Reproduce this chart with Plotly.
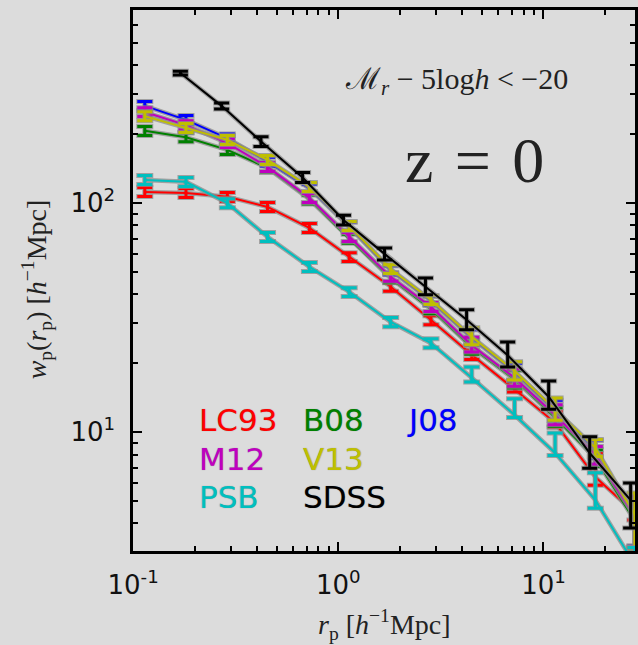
import plotly.graph_objects as go

# Projected correlation function w_p(r_p) for M_r - 5log h < -20 galaxies at z = 0

# projected separations [h^-1 Mpc]
rp_model = [0.114, 0.181, 0.288, 0.452, 0.723, 1.13, 1.80, 2.83, 4.47, 7.23, 11.4, 17.9, 27.9]
rp_sdss = [0.17, 0.27, 0.42, 0.67, 1.06, 1.68, 2.66, 4.22, 6.69, 10.6, 16.8, 26.6]

# semi-analytic models
wp_lc93 = [112, 110.9, 106.6, 96.3, 78, 58.2, 43.2, 30.9, 21.8, 15.4, 11.0, 6.38, 4.44]
up_lc93 = [5.0, 5.0, 4.8, 4.3, 3.5, 2.6, 1.9, 1.4, 1.0, 1.2, 1.3, 1.7, 0.4]
dn_lc93 = [5.0, 5.0, 4.8, 4.3, 3.5, 2.6, 1.9, 1.4, 1.0, 0.4, 0.5, 0.5, 0.3]

wp_b08 = [207, 194, 171, 142.6, 104, 70, 47, 34.5, 23.5, 17, 11.6, 7.7, 4.1]
up_b08 = [9.3, 8.7, 7.7, 6.4, 4.7, 3.2, 2.1, 1.6, 1.9, 1.6, 1.2, 0.7, 0.9]
dn_b08 = [9.3, 8.7, 7.7, 6.4, 4.7, 3.2, 2.1, 1.6, 1.6, 1.4, 1.0, 0.6, 1.0]

wp_j08 = [266, 231, 192, 152, 116, 79, 51, 37.5, 25.8, 18.3, 12.4, 8.4, 4.3]
up_j08 = [12, 10.4, 8.6, 6.8, 5.2, 3.6, 2.3, 1.7, 2.2, 1.7, 1.4, 0.8, 1.0]
dn_j08 = [12, 10.4, 8.6, 6.8, 5.2, 3.6, 2.3, 1.7, 1.8, 1.5, 1.2, 0.7, 1.1]

wp_m12 = [250, 219, 183, 144, 105.5, 71.3, 47.7, 35.3, 24.0, 17.3, 11.9, 7.96, 4.27]
up_m12 = [11, 10, 8, 6.5, 4.7, 3.2, 2.1, 1.6, 2.0, 1.6, 1.3, 0.7, 1.0]
dn_m12 = [11, 10, 8, 6.5, 4.7, 3.2, 2.1, 1.6, 1.6, 1.4, 1.1, 0.7, 1.1]

wp_v13 = [240, 213, 189, 154.5, 117.8, 79.6, 51.6, 37.8, 26.1, 18.5, 12.6, 8.55, 4.36]
up_v13 = [11, 9.6, 8.5, 7.0, 5.3, 3.6, 2.3, 1.7, 2.5, 1.8, 1.5, 0.75, 1.07]
dn_v13 = [11, 9.6, 8.5, 7.0, 5.3, 3.6, 2.3, 1.7, 2.0, 1.6, 1.3, 0.7, 1.23]

wp_psb = [126.4, 124, 100, 71.3, 52.7, 41, 30.3, 24.5, 17.3, 11.9, 8.12, 5.06, 2.64]
up_psb = [5.7, 5.6, 4.5, 3.2, 2.4, 1.8, 1.4, 1.1, 2.0, 2.1, 1.8, 1.6, 0.5]
dn_psb = [5.7, 5.6, 4.5, 3.2, 2.4, 1.8, 1.4, 1.1, 0.7, 0.3, 0.2, 0.4, 0.3]

# SDSS measurement
wp_sdss = [370, 266, 186, 129.5, 84.5, 60.1, 43.2, 31.0, 21.7, 14.3, 8.12, 5.06]
up_sdss = [7, 8, 9, 6.5, 4.2, 3.6, 4.0, 3.3, 3.1, 2.45, 1.45, 0.95]
dn_sdss = [7, 8, 9, 6.5, 4.2, 3.6, 3.4, 3.0, 2.4, 1.7, 1.16, 1.24]

series = [
    ("LC93", rp_model, wp_lc93, up_lc93, dn_lc93, "#ff0000"),
    ("B08", rp_model, wp_b08, up_b08, dn_b08, "#008000"),
    ("J08", rp_model, wp_j08, up_j08, dn_j08, "#0000ff"),
    ("M12", rp_model, wp_m12, up_m12, dn_m12, "#bf00bf"),
    ("V13", rp_model, wp_v13, up_v13, dn_v13, "#bfbf00"),
    ("PSB", rp_model, wp_psb, up_psb, dn_psb, "#00bfbf"),
    ("SDSS", rp_sdss, wp_sdss, up_sdss, dn_sdss, "#000000"),
]

halo = "rgba(140,140,140,0.75)"
fig = go.Figure()
for name, x, y, up, dn, col in series:
    # grey outline underneath, then the coloured curve with error bars
    fig.add_trace(go.Scatter(
        x=x, y=y, mode="lines", line=dict(color=halo, width=4.5),
        error_y=dict(type="data", array=up, arrayminus=dn, symmetric=False,
                     color=halo, thickness=5, width=8.5),
        showlegend=False, hoverinfo="skip"))
    fig.add_trace(go.Scatter(
        x=x, y=y, mode="lines", name=name, line=dict(color=col, width=2),
        error_y=dict(type="data", array=up, arrayminus=dn, symmetric=False,
                     color=col, thickness=3, width=7.5),
        showlegend=False))

# legend as coloured labels
legend_rows = [
    [("LC93", "#ff0000"), ("B08", "#008000"), ("J08", "#0000ff")],
    [("M12", "#bf00bf"), ("V13", "#bfbf00")],
    [("PSB", "#00bfbf"), ("SDSS", "#000000")],
]
col_x = [0.127, 0.3353, 0.5417]
row_y = [0.2421, 0.1701, 0.0998]
shadow = "0px 0px 1px #8c8c8c"
annotations = []
for r, row in enumerate(legend_rows):
    for c, (lab, col) in enumerate(row):
        annotations.append(dict(
            text=lab, x=col_x[c], y=row_y[r], xref="paper", yref="paper",
            xanchor="left", yanchor="middle", showarrow=False,
            font=dict(family="DejaVu Sans", size=31, color=col, shadow=shadow)))

serif = "Liberation Serif"
annotations += [
    dict(text="ℳ<sub><i>r</i></sub> − 5log<i>h</i> &lt; −20", x=0.6448, y=0.8688,
         xref="paper", yref="paper", showarrow=False, xanchor="center", yanchor="middle",
         font=dict(family=serif, size=30, color="#222222")),
    dict(text="z\u2004=\u20040", x=0.6806, y=0.722, xref="paper", yref="paper",
         showarrow=False, xanchor="center", yanchor="middle",
         font=dict(family=serif, size=64, color="#222222")),
    dict(text="<i>r</i><sub>p</sub> [<i>h</i><sup>−1</sup>Mpc]", x=0.5, y=-0.136,
         xref="paper", yref="paper", showarrow=False, xanchor="center", yanchor="middle",
         font=dict(family=serif, size=28, color="#222222")),
    dict(text="<i>w</i><sub>p</sub>(<i>r</i><sub>p</sub>) [<i>h</i><sup>−1</sup>Mpc]",
         x=-0.1905, y=0.4843, xref="paper", yref="paper", showarrow=False,
         textangle=-90, xanchor="center", yanchor="middle",
         font=dict(family=serif, size=28, color="#222222")),
]

x_minor = [0.2, 0.3, 0.4, 0.5, 0.6, 0.7, 0.8, 0.9, 2, 3, 4, 5, 6, 7, 8, 9, 20, 30]
y_minor = [3, 4, 5, 6, 7, 8, 9, 20, 30, 40, 50, 60, 70, 80, 90, 200, 300, 400, 500, 600, 700]

axis_common = dict(
    type="log", showgrid=False, zeroline=False, showline=True, linecolor="black",
    linewidth=2.5, mirror="allticks", ticks="inside", ticklen=9, tickwidth=2,
    tickcolor="black", tickfont=dict(family="DejaVu Sans", size=26, color="#111111"),
)

fig.update_layout(
    width=638, height=645,
    margin=dict(l=133, r=0, t=10, b=94),
    paper_bgcolor="#dcdcdc", plot_bgcolor="#dcdcdc",
    xaxis=dict(axis_common, range=[-1.0005, 1.4461], tickvals=[0.1, 1, 10],
               ticktext=["10<sup>-1</sup>", "10<sup>0</sup>", "10<sup>1</sup>"],
               ticklabelstandoff=9,
               minor=dict(tickvals=x_minor, ticks="inside", ticklen=5, tickwidth=1.5,
                          tickcolor="black", showgrid=False)),
    yaxis=dict(axis_common, range=[0.4819, 2.8433], tickvals=[10, 100],
               ticktext=["10<sup>1</sup>", "10<sup>2</sup>"],
               ticklabelstandoff=10,
               minor=dict(tickvals=y_minor, ticks="inside", ticklen=5, tickwidth=1.5,
                          tickcolor="black", showgrid=False)),
    annotations=annotations,
    showlegend=False,
)

fig.write_html("out.html")
